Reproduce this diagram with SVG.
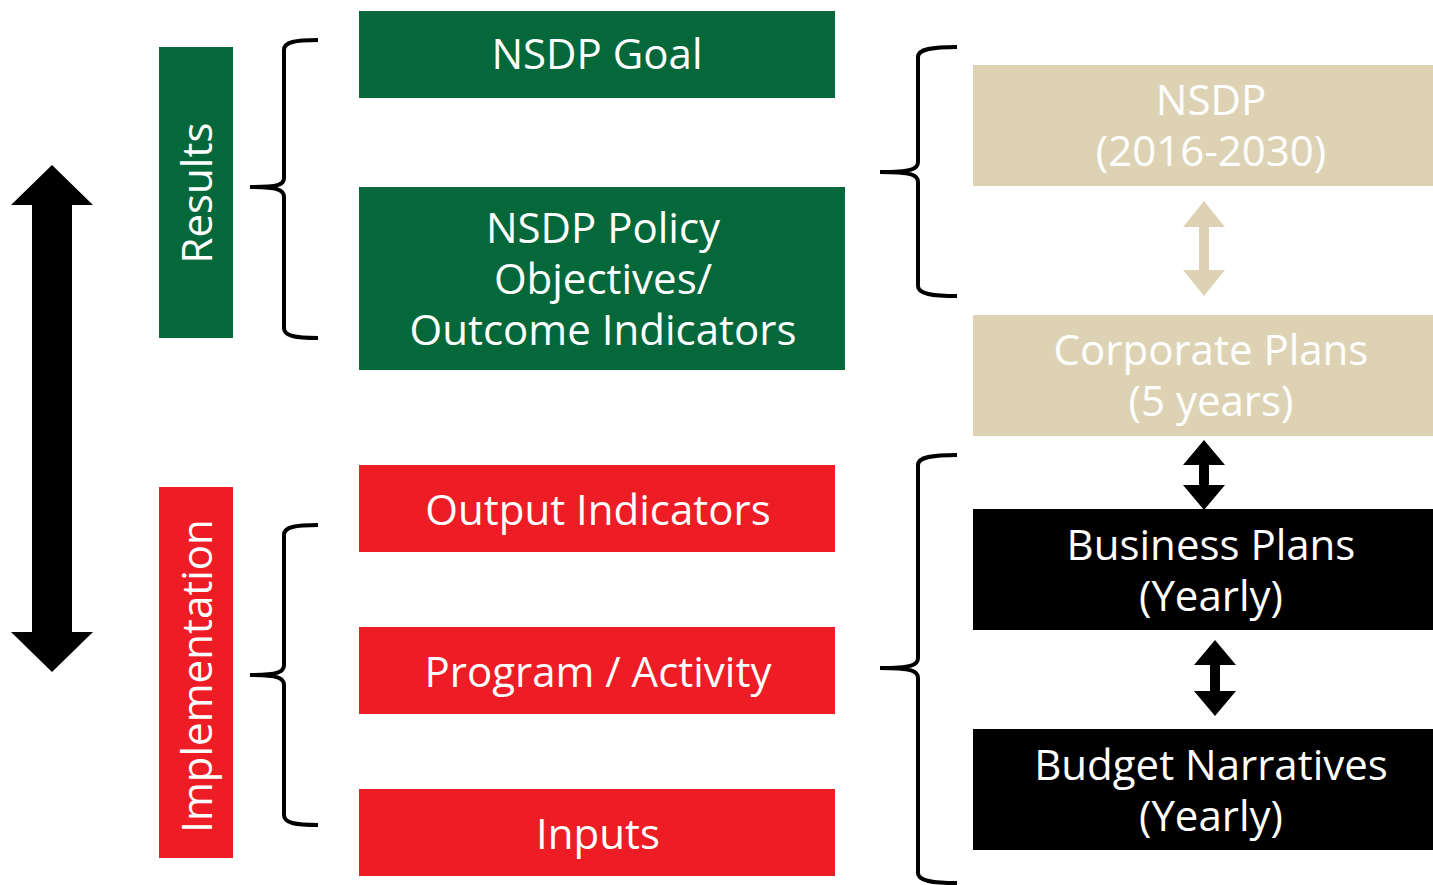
<svg xmlns="http://www.w3.org/2000/svg" width="1433" height="885" viewBox="0 0 1433 885">
<style>
.t{font-family:"Open Sans","Noto Sans",sans-serif;font-size:42px;fill:#fff;text-anchor:middle}
.g{fill:#05683A}.r{fill:#EE1C25}.k{fill:#000}.n{fill:#DDD3B4}
.br{fill:none;stroke:#000;stroke-width:4}
</style>
<rect width="1433" height="885" fill="#fff"/>
<g id="results"><rect class="g" x="159" y="47" width="74" height="291"/><text class="t" transform="translate(212,193) rotate(-90)">Results</text></g>
<g id="implementation"><rect class="r" x="159" y="487" width="74" height="371"/><text class="t" transform="translate(212,676) rotate(-90)">Implementation</text></g>
<g id="goal"><rect class="g" x="359" y="11" width="476" height="87"/><text class="t" x="597" y="69">NSDP Goal</text></g>
<g id="policy"><rect class="g" x="359" y="187" width="486" height="183"/><text class="t" x="603" y="243">NSDP Policy</text><text class="t" x="603" y="294">Objectives/</text><text class="t" x="603" y="345">Outcome Indicators</text></g>
<g id="output"><rect class="r" x="359" y="465" width="476" height="87"/><text class="t" x="598" y="525">Output Indicators</text></g>
<g id="program"><rect class="r" x="359" y="627" width="476" height="87"/><text class="t" x="598" y="687">Program / Activity</text></g>
<g id="inputs"><rect class="r" x="359" y="789" width="476" height="87"/><text class="t" x="598" y="849">Inputs</text></g>
<g id="nsdp"><rect class="n" x="973" y="65" width="460" height="121"/><text class="t" x="1211" y="115">NSDP</text><text class="t" x="1211" y="166">(2016-2030)</text></g>
<g id="corporate"><rect class="n" x="973" y="315" width="460" height="121"/><text class="t" x="1211" y="365">Corporate Plans</text><text class="t" x="1211" y="416">(5 years)</text></g>
<g id="business"><rect class="k" x="973" y="509" width="460" height="121"/><text class="t" x="1211" y="560">Business Plans</text><text class="t" x="1211" y="611">(Yearly)</text></g>
<g id="budget"><rect class="k" x="973" y="729" width="460" height="121"/><text class="t" x="1211" y="780">Budget Narratives</text><text class="t" x="1211" y="831">(Yearly)</text></g>
<g id="connectors">
<polygon class="k" points="52,165 93,205 72,205 72,632 93,632 52,672 11,632 32,632 32,205 11,205"/>
<polygon class="n" points="1204,201 1225,227 1209,227 1209,270 1225,270 1204,296 1183,270 1199,270 1199,227 1183,227"/>
<polygon class="k" points="1204,440 1225,465 1209,465 1209,485 1225,485 1204,510 1183,485 1199,485 1199,465 1183,465"/>
<polygon class="k" points="1215,640 1236,665 1220,665 1220,691 1236,691 1215,716 1194,691 1210,691 1210,665 1194,665"/>
<path class="br" d="M318,40 C295,40 284,42 284,50 L284,178 C284,185 278,187 250,187 C278,187 284,190 284,197 L284,328 C284,336 295,338 318,338"/>
<path class="br" d="M318,525 C295,525 284,527 284,535 L284,665 C284,672 278,675 250,675 C278,675 284,678 284,685 L284,815 C284,823 295,825 318,825"/>
<path class="br" d="M957,47 C932,47 918,49 918,57 L918,162 C918,169 912,172 880,172 C912,172 918,175 918,182 L918,286 C918,294 932,296 957,296"/>
<path class="br" d="M957,455 C932,455 918,457 918,465 L918,658 C918,665 912,668 880,668 C912,668 918,671 918,678 L918,873 C918,881 932,883 957,883"/>
</g>
</svg>
